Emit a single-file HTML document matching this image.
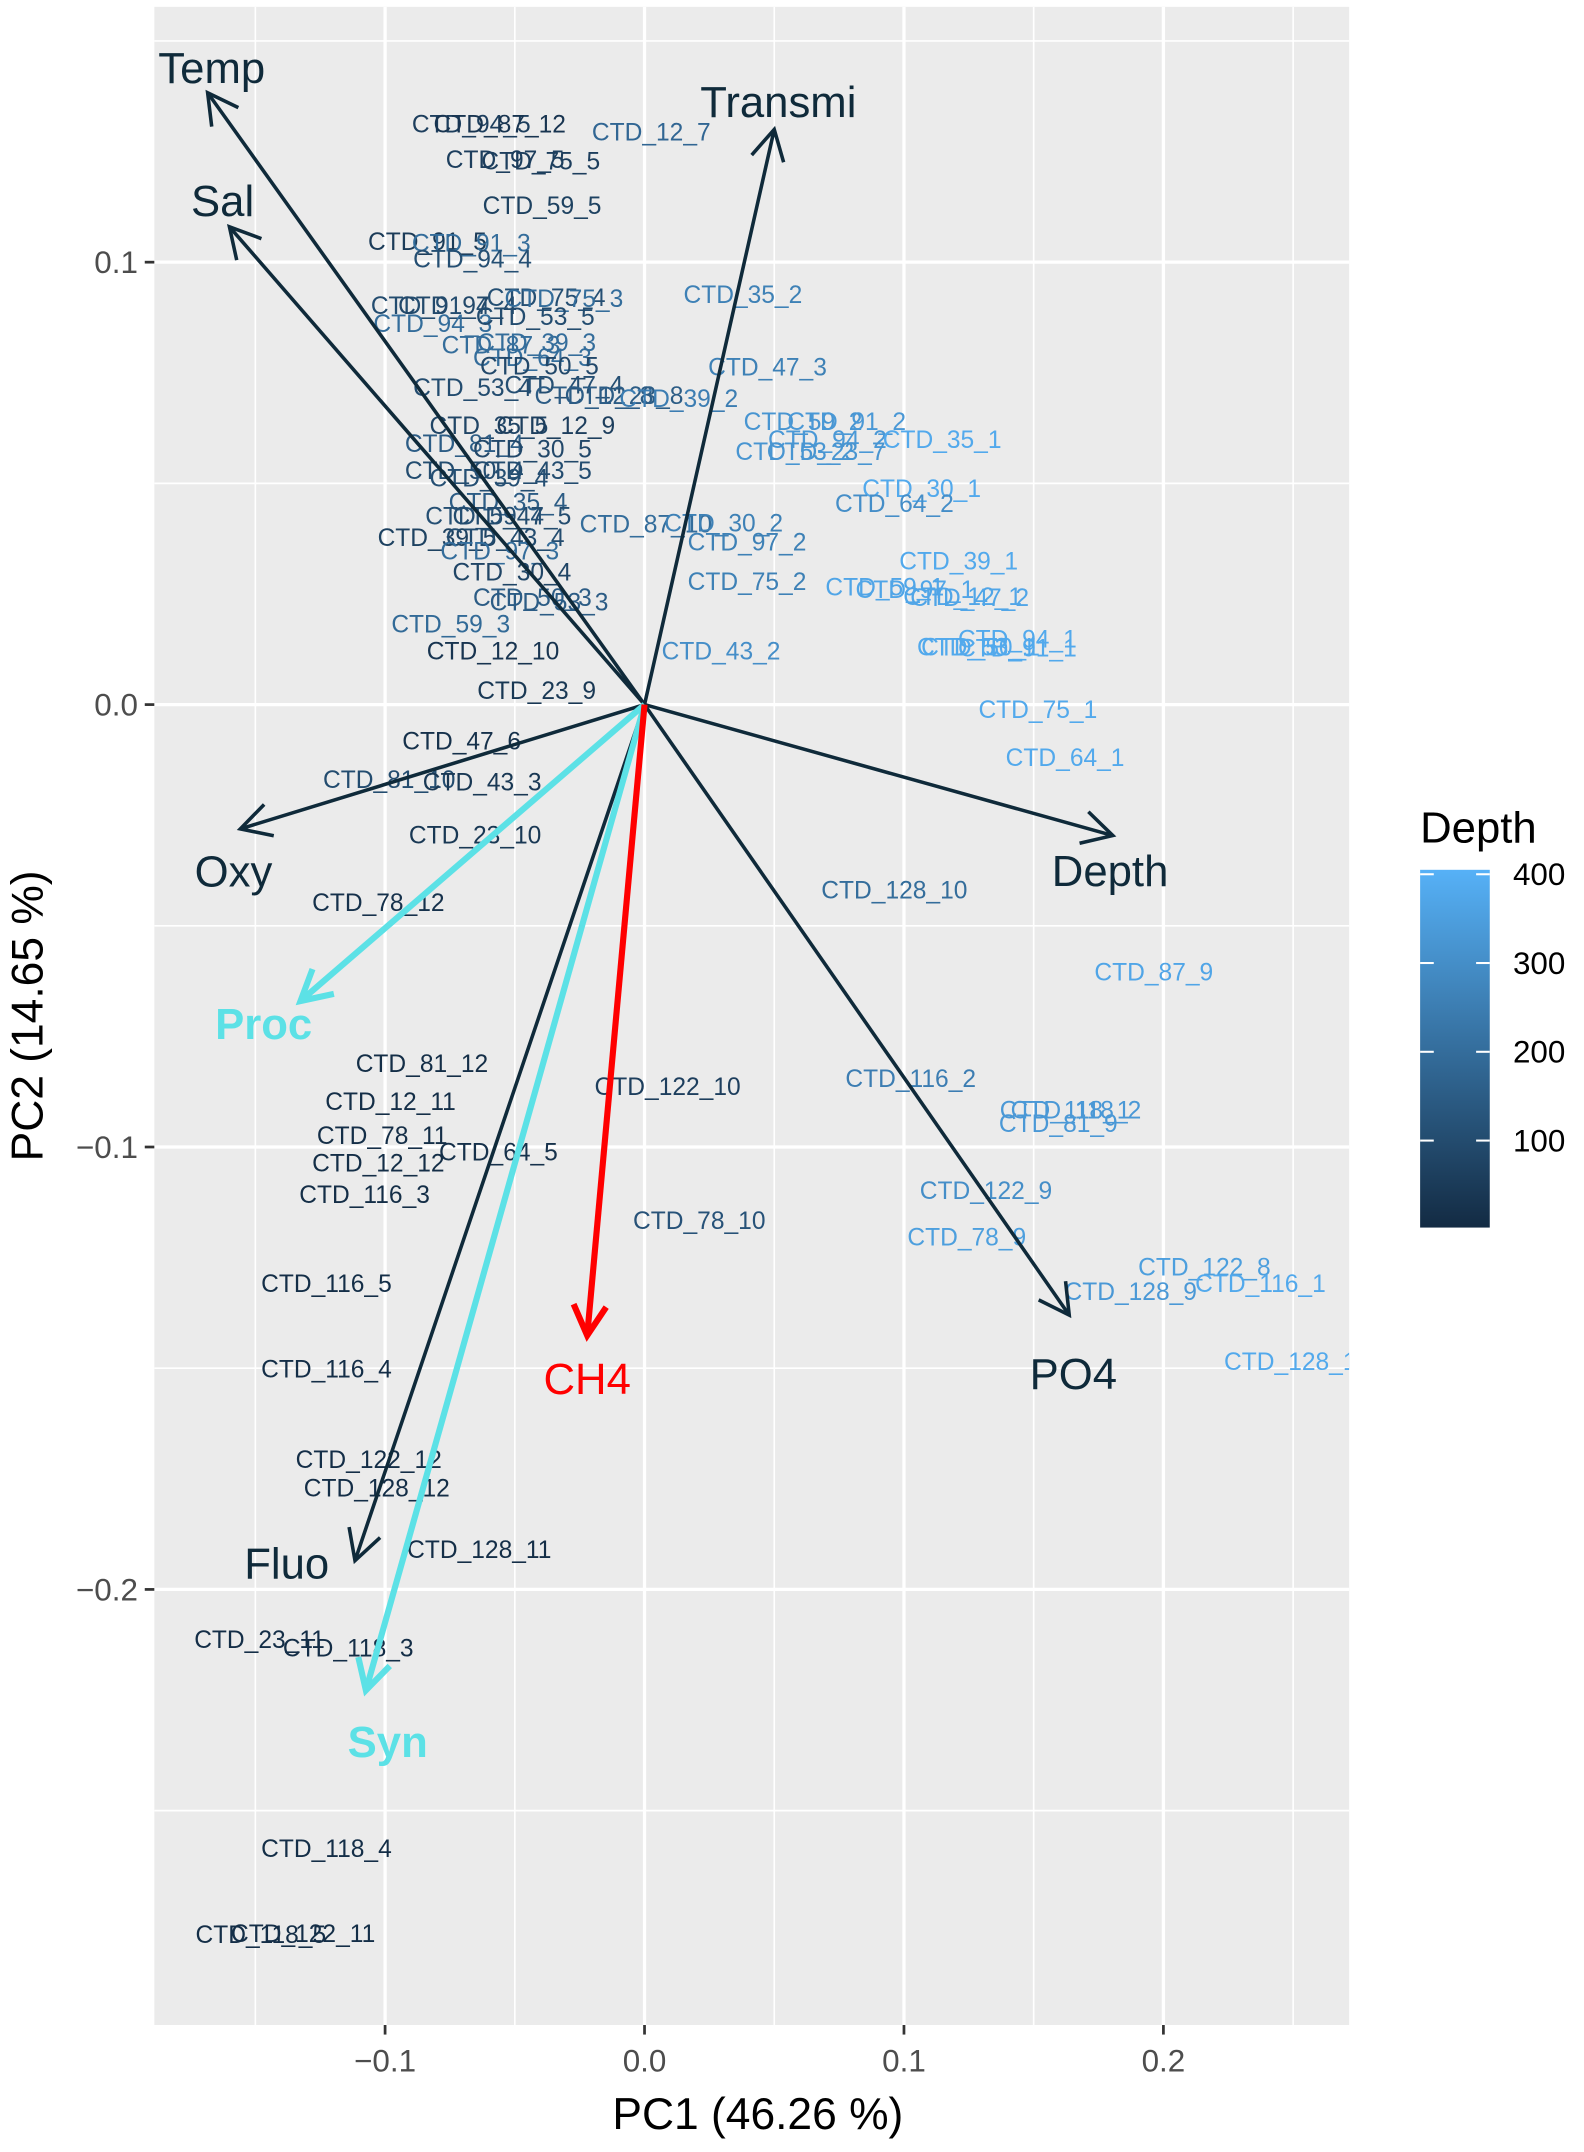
<!DOCTYPE html>
<html><head><meta charset="utf-8"><style>
html,body{margin:0;padding:0;background:#fff;}
svg{display:block;font-family:"Liberation Sans",sans-serif;}
</style></head><body>
<svg id="chart" width="1584" height="2152" viewBox="0 0 1160 1576" xmlns="http://www.w3.org/2000/svg">
<defs>
<clipPath id="pc"><rect x="113" y="5" width="875" height="1478"/></clipPath>
<linearGradient id="dg" x1="0" y1="1" x2="0" y2="0"><stop offset="0" stop-color="#132B43"/><stop offset="1" stop-color="#56B1F7"/></linearGradient>
</defs>
<rect x="113" y="5" width="875" height="1478" fill="#EBEBEB"/>
<g id="grid"></g>
<g id="pts" clip-path="url(#pc)"></g>
<g id="arrows"></g>
<g id="axes"></g>
<text x="555" y="1559" font-size="32.5" text-anchor="middle" fill="#000">PC1 (46.26 %)</text>
<text transform="translate(31,744) rotate(-90)" font-size="32.5" text-anchor="middle" fill="#000">PC2 (14.65 %)</text>
<g>
<text x="1040" y="617" font-size="32" fill="#000">Depth</text>
<rect x="1040" y="637" width="51" height="262" fill="url(#dg)"/>
<g id="leg"></g>
</g>
</svg>
<script>
const xTicks=[-0.1,0.0,0.1,0.2];
const xTickLabels=["\u22120.1","0.0","0.1","0.2"];
const yTicks=[0.1,0.0,-0.1,-0.2];
const yTickLabels=["0.1","0.0","\u22120.1","\u22120.2"];
const xMinor=[-0.15,-0.05,0.05,0.15,0.25];
const yMinor=[0.15,0.05,-0.05,-0.15,-0.25];
const legendTicks=[100,200,300,400];

const vecNames=["Temp","Sal","Transmi","Depth","PO4","Fluo","Oxy"];
const vecX=[-0.1684,-0.16,0.05,0.1805,0.1637,-0.1116,-0.1558];
const vecY=[0.1383,0.108,0.13,-0.0296,-0.138,-0.1935,-0.0281];
const supNames=["Proc","Syn","CH4"];
const supX=[-0.1326,-0.1074,-0.0221];
const supY=[-0.067,-0.2228,-0.1426];

const ptLabels=["CTD_94_5","CTD_87_12","CTD_12_7","CTD_97_5","CTD_75_5","CTD_59_5","CTD_91_5","CTD_91_3","CTD_94_4","CTD_35_2","CTD_91_4","CTD_97_4","CTD_75_4","CTD_75_3","CTD_94_3","CTD_53_5","CTD_87_3","CTD_39_3","CTD_64_3","CTD_50_5","CTD_47_3","CTD_53_4","CTD_47_4","CTD_12_8","CTD_23_8","CTD_39_2","CTD_59_2","CTD_91_2","CTD_94_2","CTD_35_1","CTD_53_2","CTD_23_7","CTD_35_5","CTD_12_9","CTD_81_4","CTD_30_5","CTD_50_4","CTD_43_5","CTD_39_4","CTD_30_1","CTD_64_2","CTD_35_4","CTD_59_4","CTD_47_5","CTD_87_10","CTD_30_2","CTD_39_5","CTD_43_4","CTD_97_3","CTD_97_2","CTD_39_1","CTD_75_2","CTD_30_4","CTD_50_3","CTD_53_3","CTD_59_1","CTD_97_1","CTD_12_1","CTD_47_2","CTD_59_3","CTD_12_10","CTD_43_2","CTD_94_1","CTD_50_1","CTD_91_1","CTD_53_1","CTD_23_9","CTD_75_1","CTD_64_1","CTD_47_6","CTD_81_10","CTD_43_3","CTD_23_10","CTD_78_12","CTD_128_10","CTD_87_9","CTD_81_12","CTD_122_10","CTD_116_2","CTD_12_11","CTD_118_2","CTD_118_1","CTD_81_9","CTD_78_11","CTD_64_5","CTD_12_12","CTD_116_3","CTD_122_9","CTD_78_10","CTD_78_9","CTD_122_8","CTD_128_9","CTD_116_1","CTD_116_5","CTD_128_1","CTD_116_4","CTD_122_12","CTD_128_12","CTD_128_11","CTD_23_11","CTD_118_3","CTD_118_4","CTD_118_5","CTD_122_11"];
const ptX=[-0.0668,-0.0558,0.0026,-0.0537,-0.04,-0.0395,-0.0837,-0.0668,-0.0663,0.0379,-0.0826,-0.0721,-0.0379,-0.0311,-0.0816,-0.0421,-0.0553,-0.0416,-0.0432,-0.0405,0.0474,-0.0663,-0.0311,-0.0195,-0.0079,0.0132,0.0611,0.0779,0.0705,0.1147,0.0579,0.07,-0.06,-0.0342,-0.0695,-0.0432,-0.0695,-0.0432,-0.06,0.1068,0.0963,-0.0526,-0.0616,-0.0511,0.0005,0.0305,-0.08,-0.0537,-0.0558,0.0395,0.1211,0.0395,-0.0511,-0.0432,-0.0368,0.0926,0.1042,0.1226,0.1253,-0.0747,-0.0584,0.0295,0.1437,0.1295,0.1437,0.1279,-0.0416,0.1516,0.1621,-0.0705,-0.0984,-0.0626,-0.0653,-0.1026,0.0963,0.1963,-0.0858,0.0089,0.1026,-0.0979,0.1663,0.1621,0.1595,-0.1011,-0.0563,-0.1026,-0.1079,0.1316,0.0211,0.1242,0.2158,0.1874,0.2374,-0.1226,0.2489,-0.1226,-0.1063,-0.1032,-0.0637,-0.1484,-0.1142,-0.1226,-0.1479,-0.1316];
const ptY=[0.1312,0.1312,0.1293,0.1231,0.1228,0.1127,0.1046,0.1043,0.1006,0.0926,0.0901,0.0901,0.092,0.0917,0.0861,0.0877,0.0812,0.0818,0.0784,0.0765,0.0762,0.0716,0.0722,0.0698,0.0698,0.0691,0.0639,0.0639,0.0599,0.0599,0.0571,0.0571,0.063,0.063,0.059,0.0577,0.0528,0.0528,0.0512,0.0488,0.0454,0.0457,0.0426,0.0426,0.0407,0.041,0.0377,0.0377,0.0346,0.0367,0.0324,0.0278,0.0299,0.0241,0.0231,0.0265,0.0259,0.0244,0.0241,0.0182,0.012,0.012,0.0148,0.013,0.0127,0.013,0.0031,-0.0012,-0.012,-0.0083,-0.017,-0.0176,-0.0296,-0.0448,-0.042,-0.0605,-0.0812,-0.0864,-0.0846,-0.0898,-0.0917,-0.0917,-0.0948,-0.0975,-0.1012,-0.1037,-0.1108,-0.1099,-0.1167,-0.1204,-0.1272,-0.1327,-0.1309,-0.1309,-0.1485,-0.1503,-0.1707,-0.1772,-0.191,-0.2114,-0.2133,-0.2586,-0.2781,-0.2778];
const ptDepth=[60,30,180,60,60,70,50,200,110,260,100,90,110,200,200,100,200,200,200,90,260,100,110,150,150,250,320,330,330,380,320,320,80,60,150,90,100,100,110,380,300,150,110,100,200,260,70,100,200,260,380,260,80,150,150,370,370,370,370,190,30,300,380,380,380,380,40,380,380,20,100,40,40,20,200,370,10,60,250,10,330,330,330,10,20,10,10,300,120,350,350,330,380,10,380,10,10,10,10,10,10,10,10,10];

const NS="http://www.w3.org/2000/svg";
const X0=472,XS=1900,Y0=516,YS=3240;
function sx(v){return X0+v*XS;}
function sy(v){return Y0-v*YS;}
function mk(tag,attrs,parent){const e=document.createElementNS(NS,tag);for(const k in attrs)e.setAttribute(k,attrs[k]);parent.appendChild(e);return e;}
function col(d){const t=Math.max(0,Math.min(1,(d-2)/403));const a=[0x13,0x2B,0x43],b=[0x56,0xB1,0xF7];return "rgb("+a.map((v,i)=>Math.round(v+(b[i]-v)*t)).join(",")+")";}

const grid=document.getElementById('grid');
xMinor.forEach(v=>{const l=mk('line',{x1:sx(v),x2:sx(v),y1:5,y2:1483,stroke:'#fff','stroke-width':1.2},grid);

});
yMinor.forEach(v=>{const l=mk('line',{x1:113,x2:988,y1:sy(v),y2:sy(v),stroke:'#fff','stroke-width':1.2},grid);

});
xTicks.forEach(v=>{const l=mk('line',{x1:sx(v),x2:sx(v),y1:5,y2:1483,stroke:'#fff','stroke-width':2.4},grid);

});
yTicks.forEach(v=>{const l=mk('line',{x1:113,x2:988,y1:sy(v),y2:sy(v),stroke:'#fff','stroke-width':2.4},grid);

});

const axes=document.getElementById('axes');
xTicks.forEach((v,i)=>{const l=mk('line',{x1:sx(v),x2:sx(v),y1:1483,y2:1490,stroke:'#333','stroke-width':2},axes);


const t=mk('text',{x:sx(v),y:1517,'font-size':23,'text-anchor':'middle',fill:'#4D4D4D'},axes);t.textContent=xTickLabels[i];

});
yTicks.forEach((v,i)=>{const l=mk('line',{x1:106,x2:113,y1:sy(v),y2:sy(v),stroke:'#333','stroke-width':2},axes);


const t=mk('text',{x:101,y:sy(v)+8,'font-size':23,'text-anchor':'end',fill:'#4D4D4D'},axes);t.textContent=yTickLabels[i];

});

const pts=document.getElementById('pts');
ptLabels.forEach((s,i)=>{const t=mk('text',{x:sx(ptX[i]),y:sy(ptY[i])+6,'font-size':18,'text-anchor':'middle',fill:col(ptDepth[i])},pts);t.textContent=s;

});

const ar=document.getElementById('arrows');
function arrow(x,y,c,w,name){
 const x1=sx(x),y1=sy(y);const g=mk('g',{},ar);
 
 
 mk('line',{x1:X0,y1:Y0,x2:x1,y2:y1,stroke:c,'stroke-width':w},g);
 const ang=Math.atan2(y1-Y0,x1-X0),L=25,a=0.5;
 const p=[[x1-L*Math.cos(ang-a),y1-L*Math.sin(ang-a)],[x1,y1],[x1-L*Math.cos(ang+a),y1-L*Math.sin(ang+a)]];
 mk('polyline',{points:p.map(q=>q.join(',')).join(' '),fill:'none',stroke:c,'stroke-width':w},g);
}
const vecLabelDX=[3,-5,3,-2,3,-50,-5], vecLabelDY=[-18,-19,-20,26,43,2,31];
vecNames.forEach((n,i)=>{arrow(vecX[i],vecY[i],'#0F2A3A',2.6,n.toLowerCase());
 const t=mk('text',{x:sx(vecX[i])+vecLabelDX[i],y:sy(vecY[i])+vecLabelDY[i]+11,'font-size':32,'text-anchor':'middle',fill:'#0F2A3A'},ar);t.textContent=n;
 
 });
const supCol=['#5CE1E6','#5CE1E6','#FF0000'];
const supDX=[-27,16,0], supDY=[17,38,32];
supNames.forEach((n,i)=>{arrow(supX[i],supY[i],supCol[i],4.5,n.toLowerCase());
 const t=mk('text',{x:sx(supX[i])+supDX[i],y:sy(supY[i])+supDY[i]+11,'font-size':32,'font-weight':i==2?'normal':'bold','text-anchor':'middle',fill:supCol[i]},ar);t.textContent=n;
 
 });

const leg=document.getElementById('leg');
const lTop=637,lBot=899,lMin=2,lMax=405;
function ly(v){return lBot-(v-lMin)/(lMax-lMin)*(lBot-lTop);}
legendTicks.forEach(v=>{const y=ly(v);
 const a=mk('line',{x1:1040,x2:1050,y1:y,y2:y,stroke:'#fff','stroke-width':1.5},leg);
 
 
 const b=mk('line',{x1:1081,x2:1091,y1:y,y2:y,stroke:'#fff','stroke-width':1.5},leg);
 
 
 const t=mk('text',{x:1108,y:y+8,'font-size':23,fill:'#000'},leg);t.textContent=v;
 
 });
</script>
</body></html>
